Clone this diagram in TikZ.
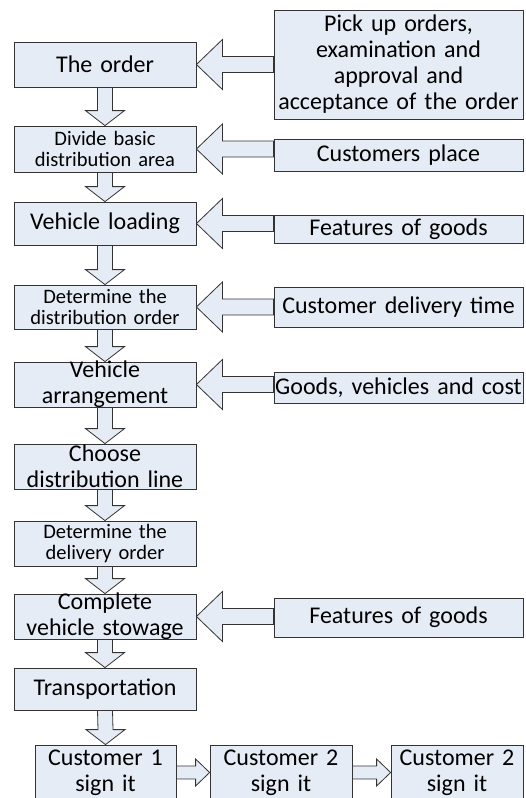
\documentclass[tikz,border=0pt]{standalone}
\usepackage{fontspec}
\setmainfont{Carlito}
\usetikzlibrary{calc}

\definecolor{stagefill}{RGB}{230,236,246}
\newcommand{\stagefont}{\fontsize{24}{26}\selectfont}
\newcommand{\stagesmall}{\fontsize{20.5}{21.5}\selectfont}

% block arrow from a box on the right (#1) into a box on the left (#2)
\newcommand{\arrowleft}[2]{%
  \draw[blockarrow] (#2.east) -- ++(26pt,25pt) -- ++(0,-17pt)
    -- ($(#2.east -| #1.west)+(0,8pt)$) -- ++(0,-16pt)
    -- ($(#2.east)+(26pt,-8pt)$) -- ++(0,-17pt) -- cycle;}
% block arrow from box #1 down to box #2
\newcommand{\arrowdown}[2]{%
  \draw[blockarrow] ($(#1.south)+(-7.5pt,0)$) -- ($(#2.north)+(-7.5pt,15pt)$)
    -- ++(-12pt,0) -- (#2.north) -- ++(19.5pt,15pt) -- ++(-12pt,0)
    -- ($(#1.south)+(7.5pt,0)$) -- cycle;}
% block arrow from box #1 right to box #2
\newcommand{\arrowright}[2]{%
  \draw[blockarrow] ($(#1.east)+(0,6.5pt)$) -- ($(#2.west)+(-14pt,6.5pt)$)
    -- ++(0,7pt) -- (#2.west) -- ++(-14pt,-13.5pt) -- ++(0,7pt)
    -- ($(#1.east)+(0,-6.5pt)$) -- cycle;}

\begin{document}
\begin{tikzpicture}[x=1pt, y=-1pt,
      stage/.style={rectangle, draw=black!80, fill=stagefill, line width=0.8pt, text width=182pt, minimum height=#1, inner xsep=0pt, inner ysep=-4pt, align=center, font=\stagefont},
      cause/.style={stage=#1, text width=249pt},
      sign/.style={stage=55pt, text width=#1},
      blockarrow/.style={draw=black!80, fill=stagefill, line width=0.8pt, line join=miter}
      ]
      \useasboundingbox (0,0) rectangle (525,798);
      \clip (0,0) rectangle (525,798);

      % Nodes
      \node[stage=45pt] (order) at (105,64.5) {The order};
      \node[stage=46pt, font=\stagesmall] (area) at (105,149) {Divide basic\\distribution area};
      \node[stage=43pt] (loading) at (105,223.5) {Vehicle loading};
      \node[stage=44pt, font=\stagesmall] (distorder) at (105,307) {Determine the\\distribution order};
      \node[stage=45pt] (arrange) at (105,384.5) {Vehicle\\arrangement};
      \node[stage=45pt] (line) at (105,466.5) {Choose\\distribution line};
      \node[stage=45pt, font=\stagesmall] (delorder) at (105,543.5) {Determine the\\delivery order};
      \node[stage=45pt] (stowage) at (105,616.5) {Complete\\vehicle stowage};
      \node[stage=42pt] (transport) at (105,689) {Transportation};

      \node[cause=109pt] (pickup) at (398.5,64.5) {Pick up orders,\\examination and\\approval and\\acceptance of the order};
      \node[cause=32pt] (place) at (398.5,155) {Customers place};
      \node[cause=28pt] (goodsA) at (398.5,229) {Features of goods};
      \node[cause=40pt] (time) at (398.5,307) {Customer delivery time};
      \node[cause=31pt] (cost) at (398.5,387.5) {Goods, vehicles and cost};
      \node[cause=39pt] (goodsB) at (398.5,617.5) {Features of goods};

      \node[sign=141pt] (cust1) at (105.5,772.5) {Customer 1\\sign it};
      \node[sign=142pt] (cust2) at (281,772.5) {Customer 2\\sign it};
      \node[sign=132pt] (cust3) at (457,772.5) {Customer 2\\sign it};

      % Arrows
      \arrowleft{pickup}{order}
      \arrowleft{place}{area}
      \arrowleft{goodsA}{loading}
      \arrowleft{time}{distorder}
      \arrowleft{cost}{arrange}
      \arrowleft{goodsB}{stowage}

      \arrowdown{order}{area}
      \arrowdown{area}{loading}
      \arrowdown{loading}{distorder}
      \arrowdown{distorder}{arrange}
      \arrowdown{arrange}{line}
      \arrowdown{line}{delorder}
      \arrowdown{delorder}{stowage}
      \arrowdown{stowage}{transport}
      \arrowdown{transport}{cust1}

      \arrowright{cust1}{cust2}
      \arrowright{cust2}{cust3}

    \end{tikzpicture}
\end{document}
